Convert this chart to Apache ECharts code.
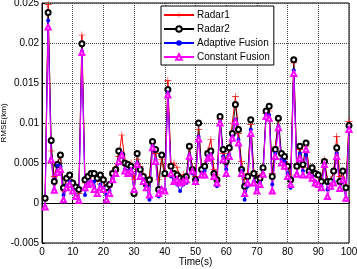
<!DOCTYPE html>
<html><head><meta charset="utf-8">
<script src="https://cdn.jsdelivr.net/npm/echarts@6/dist/echarts.min.js"></script>
<style>html,body{margin:0;padding:0;background:#fff}#c{width:357px;height:269px}</style>
</head><body><div id="c"></div>
<script>
var time = [1,2,3,4,5,6,7,8,9,10,11,12,13,14,15,16,17,18,19,20,21,22,23,24,25,26,27,28,29,30,31,32,33,34,35,36,37,38,39,40,41,42,43,44,45,46,47,48,49,50,51,52,53,54,55,56,57,58,59,60,61,62,63,64,65,66,67,68,69,70,71,72,73,74,75,76,77,78,79,80,81,82,83,84,85,86,87,88,89,90,91,92,93,94,95,96,97,98,99,100];
var radar1 = [0.0004,0.0248,0.0065,0.0033,0.0050,0.0059,0.0015,0.0029,0.0033,0.0025,0.0019,0.0012,0.0210,0.0025,0.0032,0.0035,0.0035,0.0027,0.0033,0.0027,0.0017,0.0023,0.0040,0.0044,0.0058,0.0085,0.0052,0.0046,0.0050,0.0029,0.0054,0.0046,0.0035,0.0025,0.0032,0.0075,0.0062,0.0029,0.0054,0.0033,0.0153,0.0048,0.0050,0.0044,0.0033,0.0036,0.0031,0.0069,0.0044,0.0033,0.0092,0.0044,0.0048,0.0065,0.0079,0.0042,0.0035,0.0104,0.0062,0.0054,0.0067,0.0100,0.0133,0.0087,0.0052,0.0029,0.0037,0.0098,0.0039,0.0035,0.0033,0.0042,0.0112,0.0115,0.0037,0.0071,0.0104,0.0056,0.0056,0.0048,0.0035,0.0175,0.0048,0.0067,0.0044,0.0071,0.0044,0.0042,0.0036,0.0033,0.0029,0.0054,0.0029,0.0029,0.0038,0.0083,0.0033,0.0038,0.0022,0.0102];
var radar2 = [0.0006,0.0238,0.0078,0.0027,0.0048,0.0060,0.0019,0.0031,0.0035,0.0025,0.0020,0.0017,0.0199,0.0029,0.0033,0.0037,0.0037,0.0031,0.0035,0.0029,0.0019,0.0023,0.0037,0.0042,0.0065,0.0060,0.0050,0.0048,0.0046,0.0012,0.0062,0.0042,0.0033,0.0023,0.0029,0.0077,0.0067,0.0017,0.0060,0.0037,0.0142,0.0046,0.0037,0.0035,0.0031,0.0029,0.0033,0.0071,0.0042,0.0029,0.0100,0.0042,0.0046,0.0062,0.0065,0.0037,0.0029,0.0108,0.0067,0.0052,0.0069,0.0087,0.0123,0.0092,0.0042,0.0021,0.0033,0.0104,0.0037,0.0029,0.0031,0.0044,0.0115,0.0121,0.0033,0.0067,0.0106,0.0062,0.0058,0.0046,0.0029,0.0179,0.0046,0.0071,0.0048,0.0075,0.0040,0.0044,0.0037,0.0035,0.0027,0.0052,0.0027,0.0027,0.0040,0.0069,0.0027,0.0040,0.0019,0.0097];
var adaptiveFusion = [-0.0005,0.0228,0.0055,0.0017,0.0047,0.0046,0.0010,0.0022,0.0027,0.0017,0.0010,0.0004,0.0190,0.0010,0.0025,0.0027,0.0027,0.0010,0.0023,0.0019,0.0010,0.0015,0.0031,0.0035,0.0050,0.0062,0.0042,0.0040,0.0042,0.0017,0.0050,0.0035,0.0029,0.0021,0.0004,0.0071,0.0054,0.0008,0.0015,0.0017,0.0138,0.0033,0.0029,0.0023,0.0015,0.0023,0.0025,0.0060,0.0037,0.0029,0.0083,0.0037,0.0040,0.0058,0.0060,0.0031,0.0021,0.0102,0.0058,0.0042,0.0060,0.0083,0.0104,0.0079,0.0040,0.0004,0.0021,0.0092,0.0027,0.0017,0.0025,0.0037,0.0110,0.0110,0.0023,0.0062,0.0096,0.0054,0.0052,0.0037,0.0019,0.0166,0.0037,0.0062,0.0040,0.0060,0.0035,0.0033,0.0027,0.0021,0.0021,0.0046,0.0017,0.0019,0.0027,0.0062,0.0017,0.0027,0.0004,0.0090];
var constantFusion = [-0.0005,0.0220,0.0054,0.0016,0.0038,0.0042,0.0004,0.0019,0.0023,0.0015,0.0008,0.0003,0.0188,0.0019,0.0023,0.0025,0.0017,0.0012,0.0019,0.0017,0.0004,0.0012,0.0029,0.0037,0.0052,0.0060,0.0040,0.0037,0.0040,0.0017,0.0048,0.0033,0.0027,0.0019,0.0010,0.0069,0.0052,0.0012,0.0017,0.0015,0.0135,0.0037,0.0027,0.0029,0.0025,0.0027,0.0029,0.0058,0.0040,0.0027,0.0080,0.0035,0.0035,0.0056,0.0058,0.0033,0.0025,0.0100,0.0054,0.0037,0.0058,0.0081,0.0102,0.0075,0.0037,0.0012,0.0025,0.0087,0.0025,0.0015,0.0023,0.0036,0.0108,0.0106,0.0015,0.0058,0.0094,0.0050,0.0046,0.0033,0.0023,0.0162,0.0036,0.0056,0.0035,0.0067,0.0035,0.0031,0.0025,0.0023,0.0019,0.0048,0.0008,0.0021,0.0025,0.0058,0.0018,0.0029,0.0006,0.0092];
var seriesNames = ['Radar1','Radar2','Adaptive Fusion','Constant Fusion'];
var xTicks = [0,10,20,30,40,50,60,70,80,90,100];
var yTickLabels = ['-0.005','0','0.005','0.01','0.015','0.02','0.025'];

function pairs(v){ return time.map(function(t,i){ return [t, v[i]]; }); }
var plus = 'path://M4.6,0h0.8v10h-0.8zM0,4.6h10v0.8h-10z';
var font = 'Liberation Sans, Arial, sans-serif';
var chart = echarts.init(document.getElementById('c'), null, {renderer:'canvas'});
chart.setOption({
  animation:false,
  backgroundColor:'#fff',
  grid:{left:42,top:3,right:8,bottom:26,outerBoundsMode:'none',containLabel:false,show:true,borderColor:'#000',borderWidth:1,backgroundColor:'transparent'},
  legend:{
    orient:'vertical', left:161, top:6, itemWidth:30, itemHeight:7, itemGap:4,
    backgroundColor:'#fff', borderColor:'#000', borderWidth:1, borderRadius:0, padding:[4,4,3,2],
    textStyle:{fontFamily:font,fontSize:10,color:'#000',padding:[0,0,0,-2]},
    data:seriesNames
  },
  xAxis:{
    type:'value', min:0, max:100, interval:10,
    name:'Time(s)', nameLocation:'middle', nameGap:14, nameMoveOverlap:false,
    nameTextStyle:{fontFamily:font,fontSize:10,color:'#000',verticalAlign:'top'},
    axisLine:{show:true,lineStyle:{color:'#000'}},
    axisTick:{show:true,inside:true,length:3,lineStyle:{color:'#000'}},
    axisLabel:{fontFamily:font,fontSize:10,color:'#000',margin:4},
    splitLine:{show:true,lineStyle:{color:'#444',type:[1,1],width:1}}
  },
  yAxis:{
    type:'value', min:-0.005, max:0.025, interval:0.005,
    name:'RMSE(km)', nameLocation:'middle', nameGap:34, nameMoveOverlap:false,
    nameTextStyle:{fontFamily:font,fontSize:8,color:'#000'},
    axisLine:{show:true,lineStyle:{color:'#000'}},
    axisTick:{show:true,inside:true,length:3,lineStyle:{color:'#000'}},
    axisLabel:{fontFamily:font,fontSize:10,color:'#000',margin:3,
      formatter:function(v){ var i=Math.round((v+0.005)/0.005); return yTickLabels[i]; }},
    splitLine:{show:true,lineStyle:{color:'#444',type:[1,1],width:1}}
  },
  series:[
    {name:seriesNames[0],type:'line',data:pairs(radar1),symbol:plus,symbolSize:7,showAllSymbol:true,
     lineStyle:{color:'#ff0000',width:1},itemStyle:{color:'#ff0000'}},
    {name:seriesNames[1],type:'line',data:pairs(radar2),symbol:'emptyCircle',symbolSize:5,showAllSymbol:true,
     lineStyle:{color:'#000',width:0.8},itemStyle:{color:'#000',borderColor:'#000',borderWidth:0.6}},
    {name:seriesNames[2],type:'line',data:pairs(adaptiveFusion),symbol:'circle',symbolSize:4,showAllSymbol:true,
     lineStyle:{color:'#0000ff',width:1},itemStyle:{color:'#0000ff'}},
    {name:seriesNames[3],type:'line',data:pairs(constantFusion),symbol:'emptyTriangle',symbolSize:5,showAllSymbol:true,
     lineStyle:{color:'#ff00ff',width:1},itemStyle:{color:'#ff00ff',borderColor:'#ff00ff',borderWidth:0.6}}
  ]
});
</script></body></html>
